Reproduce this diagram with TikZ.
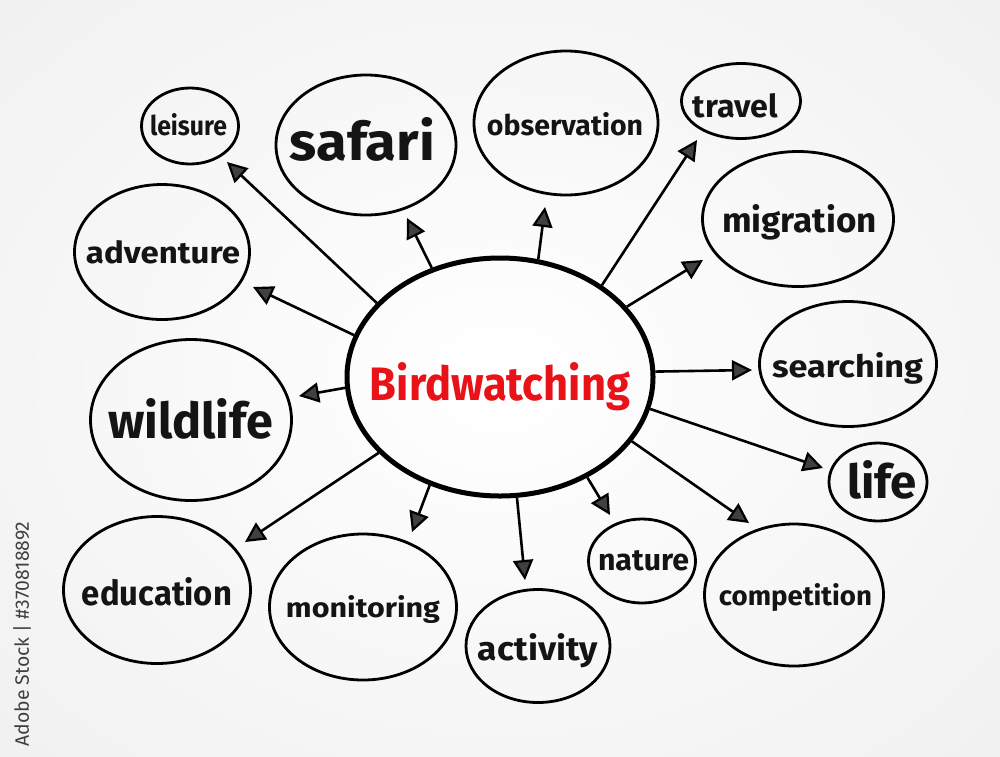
\documentclass[tikz,border=0pt]{standalone}
\usepackage{fontspec}
\setmainfont{Fira Sans}
\usetikzlibrary{shapes.geometric,arrows.meta}
\definecolor{bwred}{RGB}{232,18,24}
\begin{document}
\begin{tikzpicture}[x=1pt,y=-1pt,
  bubble/.style={draw=black, line width=2.8pt, ellipse, inner sep=0pt},
  hub/.style={draw=black, line width=5pt, ellipse, inner sep=0pt},
  word/.style={anchor=base, inner sep=0pt, font=\bfseries, text=black!92},
  arr/.style={line width=2.6pt, -{Triangle[length=20pt,width=20pt,fill=black!75,line width=2.2pt]}}
]
\useasboundingbox (0,0) rectangle (1000,756);
\fill[black!6] (0,0) rectangle (1000,756);
\shade[inner color=white, outer color=black!6] (-250,-200) rectangle (1250,956);

% vertical stock text
\node[rotate=90, inner sep=0pt, text=black!75] (stock) at (22,634) {\resizebox{225pt}{!}{Adobe Stock | \#370818892}};

% hub
\node[hub, minimum width=306pt, minimum height=238pt] (C) at (500,377) {};
\node[word, text=bwred] (C-t) at (500,400) {\resizebox{260pt}{38pt}{Birdwatching}};

% bubbles
\node[bubble, minimum width=97pt, minimum height=76pt] (leisure) at (190,126) {};
\node[word] (leisure-t) at (188.5,135) {\resizebox{77pt}{22pt}{leisure}};

\node[bubble, minimum width=180pt, minimum height=140pt] (safari) at (366,145) {};
\node[word] (safari-t) at (362.5,160) {\resizebox{145pt}{43pt}{safari}};

\node[bubble, minimum width=184pt, minimum height=144pt] (observation) at (566,123) {};
\node[word] (observation-t) at (565,135) {\resizebox{156pt}{23pt}{observation}};

\node[bubble, minimum width=119pt, minimum height=75pt] (travel) at (741,101) {};
\node[word] (travel-t) at (735.5,117) {\resizebox{85pt}{24pt}{travel}};

\node[bubble, minimum width=191pt, minimum height=135pt] (migration) at (798,219) {};
\node[word] (migration-t) at (799.5,232) {\resizebox{155pt}{28pt}{migration}};

\node[bubble, minimum width=175pt, minimum height=135pt] (adventure) at (162,252) {};
\node[word] (adventure-t) at (163,263) {\resizebox{154pt}{23pt}{adventure}};

\node[bubble, minimum width=177pt, minimum height=125pt] (searching) at (848,364) {};
\node[word] (searching-t) at (847.5,377) {\resizebox{151pt}{25pt}{searching}};

\node[bubble, minimum width=201pt, minimum height=161pt] (wildlife) at (191,420) {};
\node[word] (wildlife-t) at (190.5,438) {\resizebox{165pt}{40pt}{wildlife}};

\node[bubble, minimum width=98pt, minimum height=78pt] (life) at (878,482) {};
\node[word] (life-t) at (882,498) {\resizebox{70pt}{38pt}{life}};

\node[bubble, minimum width=187pt, minimum height=147pt] (education) at (157,590) {};
\node[word] (education-t) at (157,605) {\resizebox{150pt}{28pt}{education}};

\node[bubble, minimum width=187pt, minimum height=146pt] (monitoring) at (363,607) {};
\node[word] (monitoring-t) at (363,617) {\resizebox{154pt}{22pt}{monitoring}};

\node[bubble, minimum width=144pt, minimum height=113pt] (activity) at (538,646) {};
\node[word] (activity-t) at (538,660) {\resizebox{120pt}{27pt}{activity}};

\node[bubble, minimum width=107pt, minimum height=84pt] (nature) at (642,561) {};
\node[word] (nature-t) at (643.5,570) {\resizebox{91pt}{20pt}{nature}};

\node[bubble, minimum width=179pt, minimum height=142pt] (competition) at (794,595) {};
\node[word] (competition-t) at (795.5,605) {\resizebox{153pt}{22pt}{competition}};

% arrow tips
\coordinate (tLeisure) at (227,162);
\coordinate (tSafari) at (407,218);
\coordinate (tObservation) at (545,207);
\coordinate (tTravel) at (697,140);
\coordinate (tMigration) at (703,260);
\coordinate (tAdventure) at (253,287);
\coordinate (tSearching) at (752,370);
\coordinate (tWildlife) at (299,396);
\coordinate (tLife) at (823,468);
\coordinate (tEducation) at (245,542);
\coordinate (tMonitoring) at (412,532);
\coordinate (tActivity) at (525,580);
\coordinate (tNature) at (610,515);
\coordinate (tCompetition) at (749,523);

% connectors
\draw[arr] (C.149.8) -- (tLeisure);
\draw[arr] (C.122) -- (tSafari);
\draw[arr] (C.72.9) -- (tObservation);
\draw[arr] (C.42.2) -- (tTravel);
\draw[arr] (C.29.3) -- (tMigration);
\draw[arr] (C.164.8) -- (tAdventure);
\draw[arr] (C.2.6) -- (tSearching);
\draw[arr] (C.-176.3) -- (tWildlife);
\draw[arr] (C.-12.4) -- (tLife);
\draw[arr] (C.-148.4) -- (tEducation);
\draw[arr] (C.-123.1) -- (tMonitoring);
\draw[arr] (C.-82.8) -- (tActivity);
\draw[arr] (C.-49.2) -- (tNature);
\draw[arr] (C.-26) -- (tCompetition);
\end{tikzpicture}
\end{document}
